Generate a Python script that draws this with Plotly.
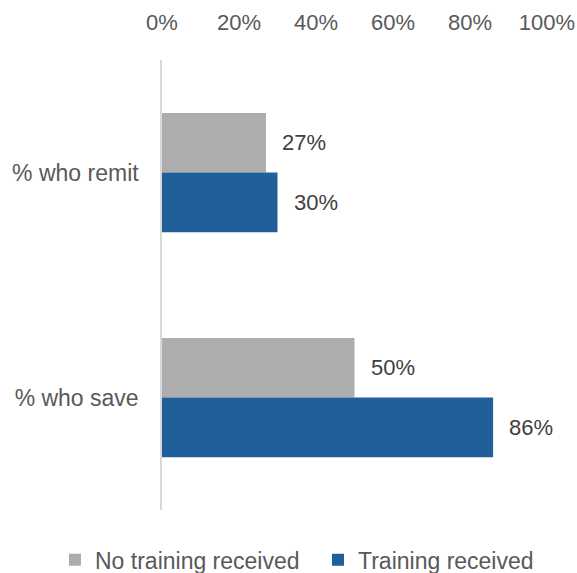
import plotly.graph_objects as go

categories = ["% who remit", "% who save"]
no_training = [27, 50]
training = [30, 86]
series_names = ["No training received", "Training received"]
colors = ["#ADADAD", "#215F9A"]

FONT = "Liberation Sans, Arial"

fig = go.Figure()
for name, vals, col, lg in zip(series_names, [no_training, training], colors, ["legend", "legend2"]):
    fig.add_trace(go.Bar(
        y=categories, x=vals, name=name, orientation="h",
        marker=dict(color=col, line=dict(width=0)),
        hoverinfo="skip", legend=lg,
    ))

annotations = []
for i, vals in enumerate([no_training, training]):
    for cat, v in zip(categories, vals):
        annotations.append(dict(
            x=v, y=cat, xref="x", yref="y", text=f"{v}%",
            showarrow=False, xanchor="left", xshift=14,
            yshift=30 if i == 0 else -30,
            font=dict(family=FONT, size=22, color="#404040"),
        ))

legend_common = dict(orientation="h", xref="container", yref="container",
                     xanchor="left", y=0.023, yanchor="middle",
                     font=dict(size=23, color="#595959"), itemwidth=30,
                     bgcolor="rgba(0,0,0,0)")

fig.update_layout(
    width=577, height=573,
    margin=dict(l=162, r=30, t=60, b=63),
    paper_bgcolor="white", plot_bgcolor="white",
    barmode="group", bargap=0.47, bargroupgap=0,
    font=dict(family=FONT, color="#595959"),
    xaxis=dict(range=[0, 100], dtick=20, side="top", ticksuffix="%",
               showgrid=False, zeroline=False, showline=False, automargin=False,
               tickfont=dict(size=22, color="#595959"),
               ticks="", ticklabelstandoff=25),
    yaxis=dict(autorange="reversed", showgrid=False, showline=True, automargin=False,
               linecolor="#D9D9D9", linewidth=1.5, ticks="",
               tickfont=dict(size=23, color="#595959"), ticklabelstandoff=17),
    legend=dict(x=55 / 577, **legend_common),
    legend2=dict(x=318 / 577, **legend_common),
    annotations=annotations,
    showlegend=True,
)
fig.write_html("out.html", config={"displayModeBar": False},
               post_script="document.body.style.margin='0';")
